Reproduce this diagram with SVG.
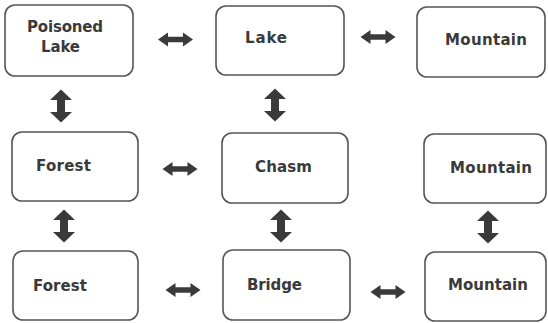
<svg xmlns="http://www.w3.org/2000/svg" xmlns:xlink="http://www.w3.org/1999/xlink" width="548" height="323" viewBox="0 0 548 323">
<style>
.box{fill:#fff;stroke:#555;stroke-width:1.6}
.lbl{font-family:"DejaVu Sans","Liberation Sans",sans-serif;font-weight:bold;font-size:15px;fill:#3a3a3a}
.arr{fill:#3a3a3a}
</style>
<defs>
<path id="h" d="M-17.5,0 L-7.5,-7 L-7.5,-2.7 L7.5,-2.7 L7.5,-7 L17.5,0 L7.5,7 L7.5,2.7 L-7.5,2.7 L-7.5,7 Z"/>
<path id="v" d="M0,-16.5 L11,-6 L4,-6 L4,6 L11,6 L0,16.5 L-11,6 L-4,6 L-4,-6 L-11,-6 Z"/>
</defs>
<rect width="548" height="323" fill="#fff"/>
<g id="poisoned-lake"><rect class="box" x="5" y="5" width="128" height="71" rx="10"/><text class="lbl" x="27" y="32" textLength="76" lengthAdjust="spacing">Poisoned</text><text class="lbl" x="41" y="52" textLength="39" lengthAdjust="spacing">Lake</text></g>
<g id="lake"><rect class="box" x="216" y="6" width="128" height="69" rx="10"/><text class="lbl" x="245" y="43" textLength="42" lengthAdjust="spacing">Lake</text></g>
<g id="mountain-top"><rect class="box" x="417" y="7" width="128" height="70" rx="10"/><text class="lbl" x="445" y="45" textLength="82" lengthAdjust="spacing">Mountain</text></g>
<g id="forest-mid"><rect class="box" x="12" y="132" width="126" height="69" rx="10"/><text class="lbl" x="36" y="171" textLength="55" lengthAdjust="spacing">Forest</text></g>
<g id="chasm"><rect class="box" x="222" y="133" width="126" height="70" rx="10"/><text class="lbl" x="255" y="172" textLength="57" lengthAdjust="spacing">Chasm</text></g>
<g id="mountain-mid"><rect class="box" x="424" y="134" width="122" height="69" rx="10"/><text class="lbl" x="450" y="173" textLength="82" lengthAdjust="spacing">Mountain</text></g>
<g id="forest-bottom"><rect class="box" x="13" y="251" width="125" height="69" rx="10"/><text class="lbl" x="33" y="291" textLength="54" lengthAdjust="spacing">Forest</text></g>
<g id="bridge"><rect class="box" x="223" y="250" width="127" height="70" rx="10"/><text class="lbl" x="247" y="290" textLength="55" lengthAdjust="spacing">Bridge</text></g>
<g id="mountain-bottom"><rect class="box" x="425" y="252" width="121" height="69" rx="10"/><text class="lbl" x="448" y="290" textLength="80" lengthAdjust="spacing">Mountain</text></g>
<g id="connectors" class="arr">
<use xlink:href="#h" transform="translate(175.5,39.5)"/>
<use xlink:href="#h" transform="translate(378,37)"/>
<use xlink:href="#h" transform="translate(180,169)"/>
<use xlink:href="#h" transform="translate(183,290)"/>
<use xlink:href="#h" transform="translate(388,292)"/>
<use xlink:href="#v" transform="translate(61,106)"/>
<use xlink:href="#v" transform="translate(275,105)"/>
<use xlink:href="#v" transform="translate(64,226)"/>
<use xlink:href="#v" transform="translate(281,226)"/>
<use xlink:href="#v" transform="translate(488,227)"/>
</g>
</svg>
